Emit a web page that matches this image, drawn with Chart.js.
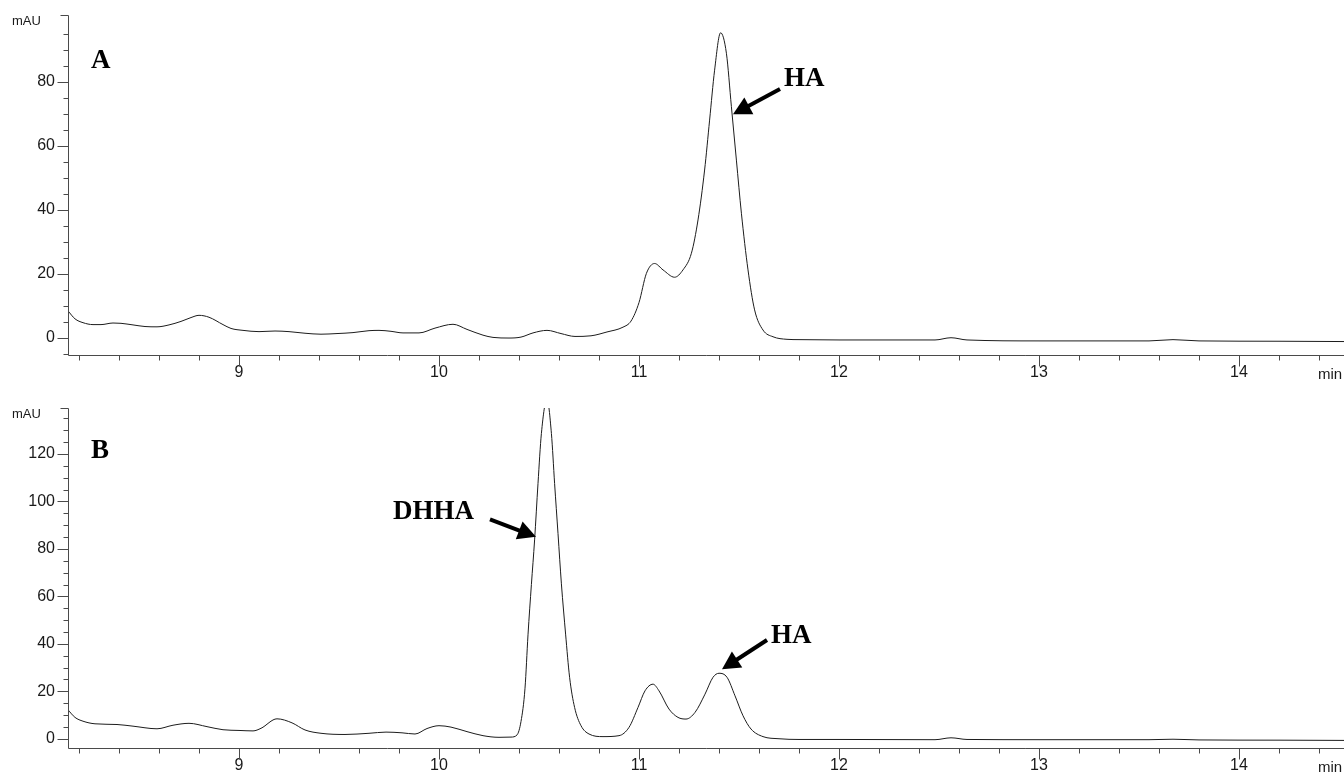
<!DOCTYPE html>
<html>
<head>
<meta charset="utf-8">
<script src="https://cdn.jsdelivr.net/npm/chart.js@4.4.1/dist/chart.umd.min.js"></script>
<style>
  html, body { margin: 0; padding: 0; background: #fff; overflow: hidden; }
  #wrap { position: relative; width: 1344px; height: 774px; }
  canvas { position: absolute; left: 0; }
  #chartA { top: 0; }
  #chartB { top: 387px; }
</style>
</head>
<body>
<div id="wrap">
  <canvas id="chartA" width="1344" height="387"></canvas>
  <canvas id="chartB" width="1344" height="387"></canvas>
</div>
<script>
// retention time (min) and absorbance (mAU)
const timesA = [8.145, 8.18, 8.22, 8.27, 8.31, 8.37, 8.41, 8.47, 8.53, 8.59, 8.65, 8.71, 8.76, 8.80, 8.85,
  8.92, 8.96, 9.02, 9.10, 9.18, 9.25, 9.33, 9.41, 9.49, 9.57, 9.65, 9.70, 9.76, 9.82, 9.90, 9.98,
  10.07, 10.14, 10.22, 10.27, 10.35, 10.41, 10.47, 10.54, 10.61, 10.68, 10.76, 10.84, 10.92, 10.96,
  11.00, 11.037, 11.078, 11.12, 11.178, 11.22, 11.262, 11.295, 11.328, 11.353, 11.378, 11.408, 11.437,
  11.462, 11.487, 11.512, 11.545, 11.578, 11.62, 11.67, 11.74, 11.80, 12.0, 12.48, 12.56, 12.64,
  13.0, 13.55, 13.67, 13.8, 14.2, 14.525];
const signalA = [8.4, 5.9, 4.7, 4.1, 4.1, 4.6, 4.5, 4.0, 3.5, 3.4, 4.0, 5.1, 6.3, 7.0, 6.4,
  4.1, 2.9, 2.3, 1.9, 2.1, 1.9, 1.4, 1.1, 1.3, 1.6, 2.2, 2.3, 2.0, 1.5, 1.5, 3.0,
  4.2, 2.6, 0.8, 0.1, -0.1, 0.2, 1.5, 2.3, 1.3, 0.4, 0.6, 1.8, 3.3, 5.2,
  11.0, 20.1, 23.2, 21.2, 18.9, 21.2, 26.4, 36.8, 52.4, 68, 83.6, 95.3, 88.9,
  72.2, 55.5, 38.9, 21.2, 8.7, 2.4, 0.3, -0.5, -0.6, -0.7, -0.7, 0.0, -0.7,
  -1.0, -1.0, -0.6, -1.0, -1.1, -1.2];

const timesB = [8.145, 8.18, 8.22, 8.28, 8.39, 8.47, 8.59, 8.67, 8.75, 8.84, 8.92, 9.00, 9.07, 9.11,
  9.19, 9.265, 9.33, 9.41, 9.53, 9.65, 9.735, 9.815, 9.88, 9.94, 10.00, 10.06, 10.14, 10.22, 10.30,
  10.36, 10.39, 10.41, 10.43, 10.445, 10.462, 10.478, 10.495, 10.512, 10.54, 10.562, 10.578, 10.595,
  10.612, 10.633, 10.653, 10.678, 10.71, 10.75, 10.82, 10.90, 10.95, 10.995, 11.03, 11.07, 11.10,
  11.15, 11.195, 11.235, 11.28, 11.33, 11.37, 11.40, 11.44, 11.48, 11.52, 11.56, 11.62, 11.70, 11.80,
  12.0, 12.48, 12.56, 12.64, 13.0, 13.55, 13.67, 13.8, 14.2, 14.525];
const signalB = [12.2, 9.0, 7.4, 6.3, 6.0, 5.3, 4.2, 5.7, 6.5, 5.1, 3.8, 3.5, 3.3, 4.4,
  8.4, 6.7, 3.7, 2.3, 1.8, 2.3, 2.8, 2.5, 2.0, 4.3, 5.5, 4.9, 3.0, 1.3, 0.6,
  0.7, 1.6, 7.3, 21.3, 43.8, 65, 83.8, 107.6, 128.7, 143, 128.7, 107.6, 86.5,
  65.3, 44.1, 25.9, 13.2, 5.5, 2.0, 0.9, 1.3, 4.8, 13.2, 20.2, 23.0, 20.2,
  12.5, 9.0, 8.3, 11.1, 18.8, 25.9, 27.6, 25.9, 18.1, 9.7, 4.1, 0.9, 0.0, -0.3,
  -0.3, -0.4, 0.4, -0.3, -0.4, -0.4, -0.2, -0.5, -0.6, -0.7];

const xTickLabels = [9, 10, 11, 12, 13, 14];
const yTicksA = [0, 20, 40, 60, 80];
const yTicksB = [0, 20, 40, 60, 80, 100, 120];

const axisColor = "#4a4a4a";
const sans = "'Liberation Sans', Arial, sans-serif";

// axis lines with long/short tick marks, plus the mAU / min captions
const axesPlugin = {
  id: "hplcAxes",
  afterDraw(chart) {
    const { ctx, chartArea: area } = chart;
    const xs = chart.scales.x, ys = chart.scales.y;
    const left = Math.round(area.left) + 0.5;
    const bottom = Math.round(area.bottom) + 0.5;
    ctx.save();
    ctx.strokeStyle = axisColor;
    ctx.lineWidth = 1;
    ctx.beginPath();
    ctx.moveTo(left, Math.round(area.top) + 0.5);
    ctx.lineTo(left, bottom);
    ctx.lineTo(area.right, bottom);
    // cap at the top of the y axis
    ctx.moveTo(left - 8, Math.round(area.top) + 0.5);
    ctx.lineTo(left, Math.round(area.top) + 0.5);
    for (let v = Math.ceil(ys.min / 5) * 5; v <= ys.max; v += 5) {
      const py = Math.round(ys.getPixelForValue(v)) + 0.5;
      if (py < area.top + 4) continue;
      const len = v % 20 === 0 ? 11 : 5;
      ctx.moveTo(left - len, py);
      ctx.lineTo(left, py);
    }
    for (let k = Math.ceil(xs.min * 5); k <= xs.max * 5; k++) {
      const px = Math.round(xs.getPixelForValue(k / 5)) + 0.5;
      const len = k % 5 === 0 ? 11 : 5;
      ctx.moveTo(px, bottom);
      ctx.lineTo(px, bottom + len);
    }
    ctx.stroke();

    ctx.fillStyle = "#1a1a1a";
    ctx.textBaseline = "alphabetic";
    ctx.textAlign = "left";
    ctx.font = "13px " + sans;
    ctx.fillText("mAU", 12, area.top + 10);
    ctx.font = "15px " + sans;
    ctx.fillText("min", 1318, area.bottom + 24);
    ctx.restore();
  },
};

// panel letter, peak names and their arrows, placed in data units
const notesPlugin = {
  id: "hplcNotes",
  afterDraw(chart, args, opts) {
    const { ctx } = chart;
    const xs = chart.scales.x, ys = chart.scales.y;
    ctx.save();
    ctx.fillStyle = "#000";
    ctx.strokeStyle = "#000";
    ctx.font = "bold 27px 'Liberation Serif', 'Times New Roman', serif";
    ctx.textBaseline = "alphabetic";
    ctx.textAlign = "left";
    (opts.labels || []).forEach((l) => {
      ctx.fillText(l.text, xs.getPixelForValue(l.t), ys.getPixelForValue(l.v));
    });
    (opts.arrows || []).forEach((a) => {
      const x0 = xs.getPixelForValue(a.from[0]), y0 = ys.getPixelForValue(a.from[1]);
      const x1 = xs.getPixelForValue(a.to[0]), y1 = ys.getPixelForValue(a.to[1]);
      const ang = Math.atan2(y1 - y0, x1 - x0);
      const headLen = 18, half = 9.5;
      const bx = x1 - headLen * Math.cos(ang), by = y1 - headLen * Math.sin(ang);
      ctx.lineWidth = 4;
      ctx.beginPath();
      ctx.moveTo(x0, y0);
      ctx.lineTo(bx + Math.cos(ang), by + Math.sin(ang));
      ctx.stroke();
      ctx.beginPath();
      ctx.moveTo(x1, y1);
      ctx.lineTo(bx + half * Math.sin(ang), by - half * Math.cos(ang));
      ctx.lineTo(bx - half * Math.sin(ang), by + half * Math.cos(ang));
      ctx.closePath();
      ctx.fill();
    });
    ctx.restore();
  },
};

function makeChart(id, times, signal, yTicks, yMin, yMax, topPad, xHeight, notes) {
  return new Chart(document.getElementById(id), {
    type: "line",
    data: {
      datasets: [
        {
          data: times.map((t, i) => ({ x: t, y: signal[i] })),
          borderColor: "#1c1c1c",
          borderWidth: 1,
          pointRadius: 0,
          cubicInterpolationMode: "monotone",
          fill: false,
        },
      ],
    },
    options: {
      responsive: false,
      animation: false,
      events: [],
      layout: { padding: { top: topPad, right: 0, bottom: 0, left: 0 } },
      plugins: {
        legend: { display: false },
        tooltip: { enabled: false },
        hplcNotes: notes,
      },
      scales: {
        x: {
          type: "linear",
          min: 8.145,
          max: 14.525,
          grid: { display: false, drawTicks: false },
          border: { display: false },
          afterBuildTicks: (s) => {
            s.ticks = xTickLabels.map((v) => ({ value: v }));
          },
          afterFit: (s) => {
            s.height = xHeight;
            s.paddingLeft = 0;
            s.paddingRight = 0;
          },
          ticks: {
            autoSkip: false,
            maxRotation: 0,
            padding: 8,
            color: "#1a1a1a",
            font: { family: sans, size: 16 },
          },
        },
        y: {
          min: yMin,
          max: yMax,
          grid: { display: false, drawTicks: false },
          border: { display: false },
          afterBuildTicks: (s) => {
            s.ticks = yTicks.map((v) => ({ value: v }));
          },
          afterFit: (s) => {
            s.width = 68;
            s.paddingTop = 0;
            s.paddingBottom = 0;
          },
          ticks: {
            autoSkip: false,
            padding: 13,
            color: "#1a1a1a",
            font: { family: sans, size: 16 },
          },
        },
      },
    },
    plugins: [axesPlugin, notesPlugin],
  });
}

makeChart("chartA", timesA, signalA, yTicksA, -5.4, 100.85, 15, 32, {
  labels: [
    { text: "A", t: 8.26, v: 84.3 },
    { text: "HA", t: 11.725, v: 78.6 },
  ],
  arrows: [{ from: [11.705, 77.7], to: [11.47, 69.8] }],
});

makeChart("chartB", timesB, signalB, yTicksB, -3.9, 139.4, 21, 26, {
  labels: [
    { text: "B", t: 8.26, v: 118.3 },
    { text: "DHHA", t: 9.77, v: 92.6 },
    { text: "HA", t: 11.66, v: 40.3 },
  ],
  arrows: [
    { from: [10.255, 92.5], to: [10.485, 85.1] },
    { from: [11.64, 41.6], to: [11.415, 29.3] },
  ],
});
</script>
</body>
</html>
